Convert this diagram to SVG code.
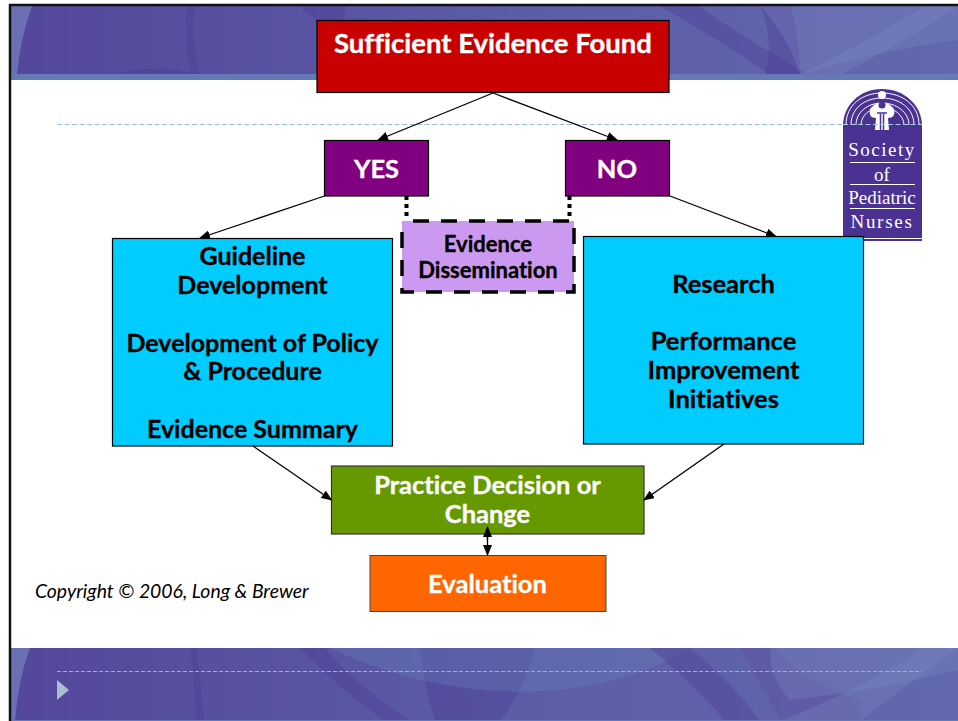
<svg xmlns="http://www.w3.org/2000/svg" width="958" height="721" viewBox="0 0 958 721">
<style>
.t{font-family:Lato,"Open Sans",sans-serif;font-weight:700;text-anchor:middle;font-variant-ligatures:none;stroke-width:.35px}
.w{fill:#fff;stroke:#fff}.k{fill:#000;stroke:#000}
.b{stroke:#000;stroke-width:1.2}
.c{stroke:#000;stroke-width:1.3;fill:none;marker-end:url(#a)}
.s{fill:#4b3a97;opacity:.38}
.l{fill:#7f8cc4;opacity:.3}
.lg{font-family:"Liberation Serif",serif;fill:#fff;text-anchor:middle;font-size:20px}
</style>
<defs>
<marker id="a" markerWidth="11" markerHeight="9" refX="10" refY="4.500" orient="auto" markerUnits="userSpaceOnUse"><path d="M0 0L11 4.500L0 9Z" fill="#000"/></marker>
<linearGradient id="bg" x1="0" x2="1" y1="0" y2="0"><stop offset="0" stop-color="#54479c"/><stop offset=".5" stop-color="#5b5ca6"/><stop offset="1" stop-color="#6268ae"/></linearGradient>
</defs>
<rect width="958" height="721" fill="#fff"/>
<g id="top-band">
<rect x="11" y="6" width="947" height="74" fill="url(#bg)"/>
<path d="M11 6H32Q20 40 17 75H11Z" fill="#6b70b4"/>
<path d="M195 6Q190 40 200 75H192Q182 40 188 6Z" class="s"/>
<path d="M300 6Q320 25 345 40V6Z" class="s"/>
<path d="M110 75Q150 62 205 75Z" class="s"/>
<path d="M660 6Q720 40 770 75H810Q730 30 700 6Z" class="s"/>
<path d="M760 6Q775 40 765 75H800Q800 35 790 6Z" class="s"/>
<path d="M760 6H958V40Q880 50 800 75Q790 40 760 6Z" class="l"/>
<path d="M800 75Q870 40 925 6H958Q900 45 840 75Z" class="l"/>
<rect x="11" y="74" width="947" height="6" fill="#6579b8"/>
</g>
<g id="bottom-band">
<rect x="11" y="648" width="947" height="73" fill="url(#bg)"/>
<path d="M11 648H30Q18 680 15 721H11Z" fill="#6b70b4"/>
<path d="M190 648Q195 680 196 721H204Q200 680 197 648Z" class="s"/>
<path d="M300 648Q340 690 385 721H410Q350 680 325 648Z" class="s"/>
<path d="M420 648Q425 690 435 721H500Q525 690 535 648Z" class="s"/>
<path d="M330 648Q440 700 560 690Q640 680 690 648Z" fill="#6a84bc" opacity=".3"/>
<path d="M650 648Q700 690 725 721H760Q730 680 690 648Z" class="s"/>
<path d="M740 648Q765 690 780 721H860V700Q800 680 775 648Z" fill="#5c4f9f" opacity=".4"/>
<path d="M770 648H958V670Q880 690 790 700Q770 680 770 648Z" class="l"/>
<path d="M780 721Q860 690 925 648H958Q900 690 860 721Z" class="l"/>
<rect x="11" y="720" width="947" height="1" fill="#6579b8"/>
<path d="M57 680V700L69 690Z" fill="#a9bdd3"/>
<line x1="57" y1="671.500" x2="922" y2="671.500" stroke="#a7a8d6" stroke-width="1" stroke-dasharray="4 2"/>
</g>
<path d="M10 721V5H958" fill="none" stroke="#111" stroke-width="2.500"/>
<line x1="57" y1="124.500" x2="843" y2="124.500" stroke="#9dbbe0" stroke-width="1" stroke-dasharray="5 2.500"/>
<g id="logo">
<path d="M843 241V126C843 105 860 89 882 89C904 89 922 105 922 126V241Z" fill="#4a3192"/>
<g fill="none" stroke="#fff" stroke-width="1">
<path d="M846 125C846 105 862 93 882 93C902 93 919 105 919 125"/>
<path d="M851 125C851 108 865 98 882 98C899 98 914 108 914 125"/>
<path d="M856 125C856 112 868 103 882 103C896 103 909 112 909 125"/>
<path d="M861 125C861 115 871 108 878 108M886 108C893 108 904 115 904 125"/>
</g>
<circle cx="882" cy="95" r="4" fill="#fff"/>
<path d="M870 109Q878 100 882 104Q886 100 894 109Q896 118 888 118L889 130H875L876 118Q868 118 870 109Z" fill="#fff"/>
<circle cx="882" cy="105" r="3.500" fill="#4a3192"/>
<path d="M877 113H887M880.500 114V130M883.500 114V130" stroke="#4a3192" stroke-width="1.500" fill="none"/>
<line x1="843" y1="124.500" x2="922" y2="124.500" stroke="#9fd0dc" stroke-width="1" stroke-dasharray="5 2.500"/>
<text class="lg" x="882" y="156" letter-spacing="1.500" style="font-size:19px">Society</text>
<rect x="850" y="162" width="65" height="1" fill="#fff"/>
<text class="lg" x="882" y="181" style="font-size:19px">of</text>
<rect x="850" y="184" width="65" height="1" fill="#fff"/>
<text class="lg" x="882" y="204" style="font-size:19px">Pediatric</text>
<rect x="850" y="208" width="65" height="1" fill="#fff"/>
<text class="lg" x="882" y="228" letter-spacing="1.700" style="font-size:19px">Nurses</text>
<rect x="843" y="238" width="79" height="1" fill="#fff"/>
</g>
<g id="sufficient"><rect class="b" x="317" y="20.500" width="352" height="72" fill="#c80000"/><text class="t w" x="493" y="52.500" font-size="27.500">Sufficient Evidence Found</text></g>
<g id="yes"><rect class="b" x="324.500" y="140.500" width="104" height="55.500" fill="#800080"/><text class="t w" x="376.500" y="177.500" font-size="25.500">YES</text></g>
<g id="no"><rect class="b" x="565.500" y="140.500" width="104" height="55.500" fill="#800080"/><text class="t w" x="617" y="177.500" font-size="25.500">NO</text></g>
<g id="dissemination"><rect x="402" y="221" width="172" height="71" fill="#cc99f0" stroke="#000" stroke-width="3.500" stroke-dasharray="16 12" stroke-dashoffset="17"/><text class="t k" x="488" y="251.500" font-size="22">Evidence</text><text class="t k" x="488" y="277.500" font-size="22">Dissemination</text></g>
<g id="guideline"><rect class="b" x="112.500" y="238.500" width="280" height="207.500" fill="#00ccff"/>
<text class="t k" font-size="25" x="252.500" y="265">Guideline</text><text class="t k" font-size="25" x="252.500" y="294">Development</text><text class="t k" font-size="25" x="252.500" y="352">Development of Policy</text><text class="t k" font-size="25" x="252.500" y="380">&amp; Procedure</text><text class="t k" font-size="25" x="252.500" y="438">Evidence Summary</text></g>
<g id="research"><rect class="b" x="583.500" y="236.500" width="280" height="207.500" fill="#00ccff"/>
<text class="t k" font-size="25.500" x="723.500" y="293">Research</text><text class="t k" font-size="25.500" x="723.500" y="350">Performance</text><text class="t k" font-size="25.500" x="723.500" y="379">Improvement</text><text class="t k" font-size="25.500" x="723.500" y="408">Initiatives</text></g>
<g id="practice"><rect x="331.500" y="466" width="312.500" height="68" fill="#669900" stroke="#333" stroke-width="1.200"/><text class="t w" x="487.500" y="494" font-size="25.500">Practice Decision or</text><text class="t w" x="487.500" y="523" font-size="25.500">Change</text></g>
<g id="evaluation"><rect x="370" y="555.500" width="236" height="56" fill="#ff6600" stroke="#444" stroke-width="1"/><text class="t w" x="487.500" y="593" font-size="25.500">Evaluation</text></g>
<g id="connectors">
<path class="c" d="M493 93L378 140"/>
<path class="c" d="M493 93L617 140"/>
<path class="c" d="M324.500 196L200 238"/>
<path class="c" d="M670 196L776 236.500"/>
<path class="c" d="M253 446L331.500 500"/>
<path class="c" d="M724 444L644 500"/>
<path d="M487.500 535V555" stroke="#000" stroke-width="1.300" fill="none" marker-end="url(#a)"/>
<path d="M487.500 540V527" stroke="#000" stroke-width="1.300" fill="none" marker-end="url(#a)"/>
<path d="M406.500 196V220M569.500 196V220" stroke="#000" stroke-width="4" stroke-dasharray="4 4" fill="none"/>
</g>
<text x="35" y="598" font-family="Lato,sans-serif" font-style="italic" font-size="19.400" fill="#000">Copyright © 2006, Long &amp; Brewer</text>
</svg>
